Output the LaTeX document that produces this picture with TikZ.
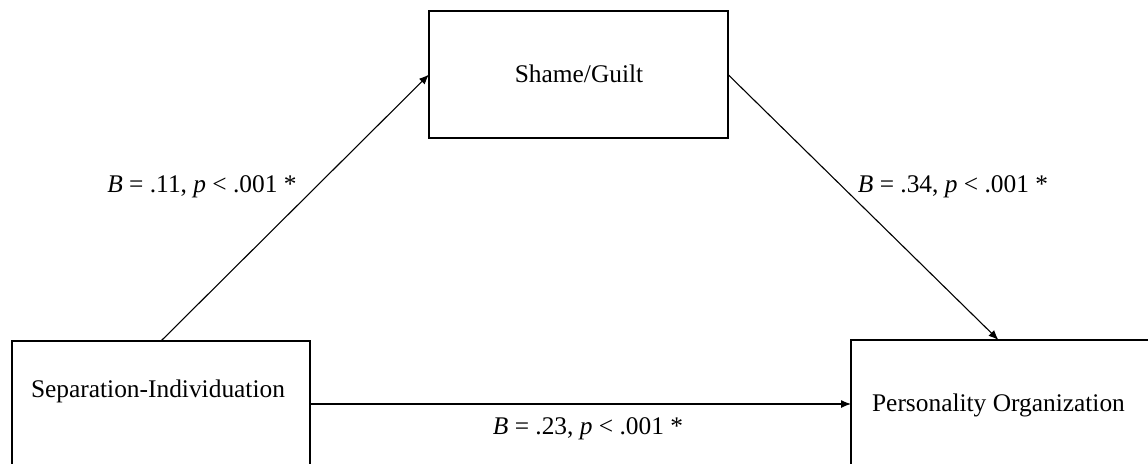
\documentclass[tikz,border=0pt]{standalone}
\usepackage{fontspec}
\setmainfont{Liberation Serif}
\usetikzlibrary{arrows.meta,calc}
\begin{document}
\begin{tikzpicture}[x=0.5pt,y=-0.5pt,
  box/.style={draw, line width=0.9pt, rectangle, inner sep=0pt, outer sep=0pt},
  lbl/.style={font=\fontsize{12.7}{15}\selectfont, inner sep=0pt},
  conn/.style={line width=0.55pt, -{Latex[length=5pt,width=4pt]}}]
\useasboundingbox (0,0) rectangle (1148,463);
\clip (0,0) rectangle (1148,463);
\fill[white] (0,0) rectangle (1148,463);
% boxes
\node[box, minimum width=149.5pt, minimum height=63.5pt] (shame) at (578.5,74.5) {};
\node[box, minimum width=149pt, minimum height=70pt] (sep) at (161,411) {};
\node[box, minimum width=152pt, minimum height=70pt] (pers) at (1003,410) {};
% box texts
\node[lbl] (shametext) at (579,74) {Shame/Guilt};
\node[lbl] (septext) at (158,391) {Separation-Individuation};
\node[lbl] (perstext) at (998.5,405) {Personality Organization};
% connectors
\draw[conn] (sep.north) -- (shame.west);
\draw[conn] (shame.east) -- (perstext |- pers.north);
\draw[conn] (sep.east |- 0,404) coordinate (hstart) -- (pers.west |- hstart);
% labels
\node[lbl] (lab1) at (202,187) {\textit{B} = .11, \textit{p} < .001 *};
\node[lbl] (lab2) at (953,187) {\textit{B} = .34, \textit{p} < .001 *};
\node[lbl] (lab3) at (588,429) {\textit{B} = .23, \textit{p} < .001 *};
\end{tikzpicture}
\end{document}
